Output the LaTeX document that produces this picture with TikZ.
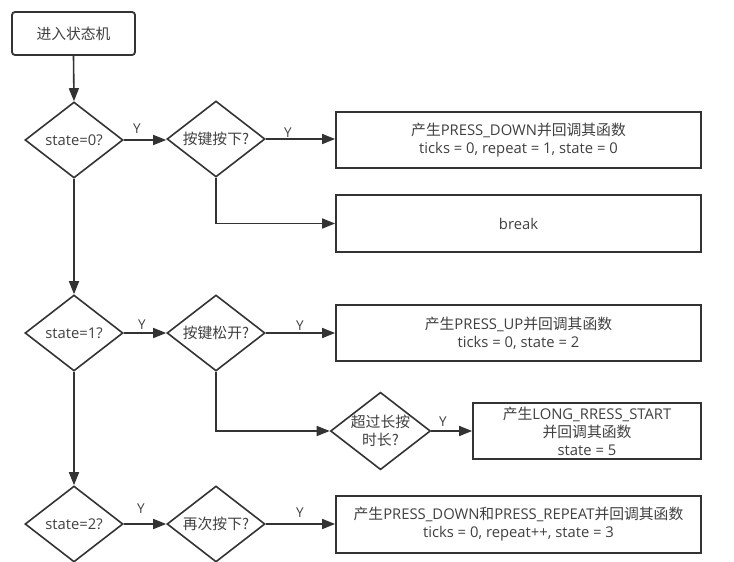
\documentclass[tikz,border=0pt]{standalone}
\usepackage{fontspec}
\setmainfont{Open Sans}
\newfontfamily\cjk{Noto Sans CJK SC}
\usetikzlibrary{shapes.geometric,arrows.meta}
\definecolor{ln}{HTML}{333333}
\definecolor{tx}{HTML}{404040}
\tikzset{
  every node/.style={text=tx, font=\fontsize{14.8}{18}\selectfont},
  box/.style={draw=ln, line width=1.8pt, fill=white, rectangle, inner sep=0pt, align=center},
  dia/.style={draw=ln, line width=1.6pt, shape=diamond, aspect=1.29, inner sep=0pt,
              minimum width=98pt, minimum height=76pt, align=center},
  conn/.style={draw=ln, line width=1.6pt, -{Triangle[length=13pt,width=10pt]}},
  ylab/.style={font=\fontsize{13.5}{15}\selectfont, inner sep=0pt}
}
\begin{document}
\begin{tikzpicture}[x=1pt,y=-1pt]
\useasboundingbox (0,0) rectangle (734,562);
\fill[white] (0,0) rectangle (734,562);
% nodes
\node[box, rounded corners=3pt, minimum width=123pt, minimum height=43pt] (start) at (73.5,33.5) {\cjk 进入状态机};
\node[dia] (d0) at (74,140) {state=0?};
\node[dia] (k0) at (216,139) {\cjk 按键按下?};
\node[box, minimum width=365pt, minimum height=56pt] (b0) at (518.5,140)
  {{\cjk 产生}PRESS\_DOWN{\cjk 并回调其函数}\\ticks = 0, repeat = 1, state = 0};
\node[box, minimum width=365pt, minimum height=57pt] (brk) at (518.5,223.5) {break};
\node[dia] (d1) at (74,333) {state=1?};
\node[dia] (k1) at (216,333) {\cjk 按键松开?};
\node[box, minimum width=365pt, minimum height=56pt] (b1) at (518.5,333)
  {{\cjk 产生}PRESS\_UP{\cjk 并回调其函数}\\ticks = 0, state = 2};
\node[dia, minimum width=97pt] (lp) at (380.5,431) {\cjk 超过长按\\\cjk 时长?};
\node[box, minimum width=228pt, minimum height=56pt] (bl) at (587,431)
  {{\cjk 产生}LONG\_RRESS\_START\\{\cjk 并回调其函数}\\state = 5};
\node[dia] (d2) at (74,524) {state=2?};
\node[dia] (k2) at (216,524) {\cjk 再次按下?};
\node[box, minimum width=365pt, minimum height=57pt] (b2) at (518.5,524.5)
  {{\cjk 产生}PRESS\_DOWN{\cjk 和}PRESS\_REPEAT{\cjk 并回调其函数}\\ticks = 0, repeat++, state = 3};
% Y labels
\node[ylab] (y1) at (137,129) {Y};
\node[ylab] (y2) at (288,133) {Y};
\node[ylab] (y3) at (142,325) {Y};
\node[ylab] (y4) at (300,326) {Y};
\node[ylab] (y5) at (443,422) {Y};
\node[ylab] (y6) at (141,509) {Y};
\node[ylab] (y7) at (300,513) {Y};
% connectors
\draw[conn] (start.south) -- (d0.north);
\draw[conn] (d0.east) -- (k0.west |- d0.east);
\draw[conn] (k0.east) -- (b0.west |- k0.east);
\draw[conn] (k0.south) |- (brk.west);
\draw[conn] (d0.south) -- (d1.north);
\draw[conn] (d1.east) -- (k1.west);
\draw[conn] (k1.east) -- (b1.west);
\draw[conn] (k1.south) |- (lp.west);
\draw[conn] (lp.east) -- (bl.west);
\draw[conn] (d1.south) -- (d2.north);
\draw[conn] (d2.east) -- (k2.west);
\draw[conn] (k2.east) -- (b2.west |- k2.east);
\end{tikzpicture}
\end{document}
